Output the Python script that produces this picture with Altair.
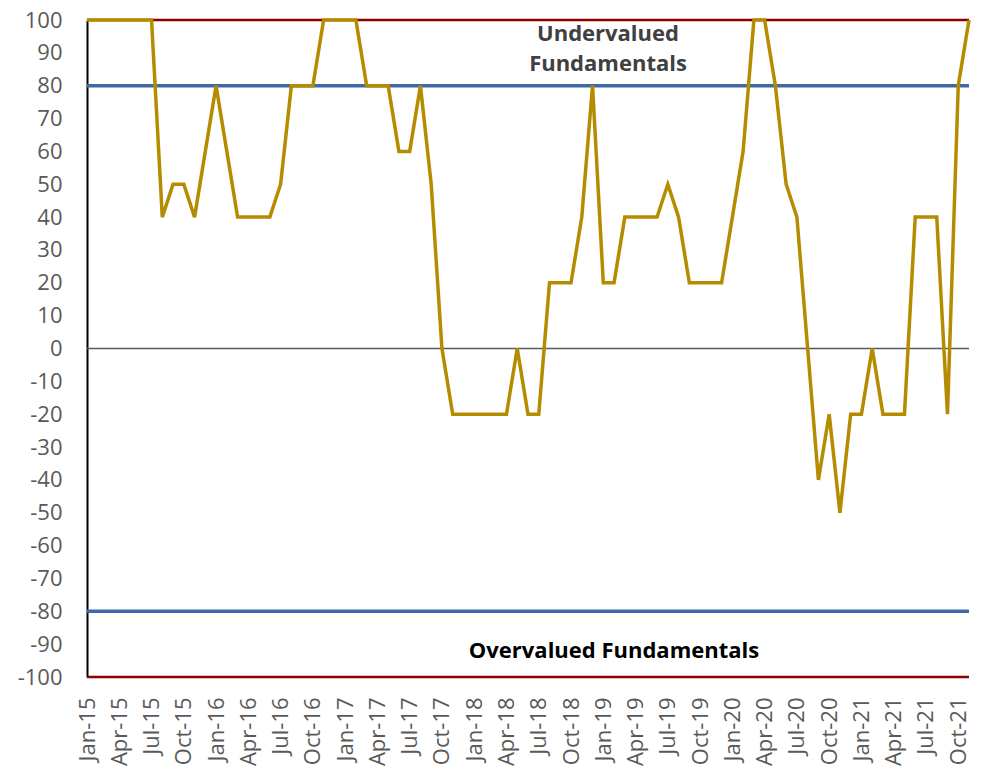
import altair as alt
import pandas as pd

# ---- data -------------------------------------------------------------
month_names = ["Jan", "Feb", "Mar", "Apr", "May", "Jun",
               "Jul", "Aug", "Sep", "Oct", "Nov", "Dec"]
years = ["15", "16", "17", "18", "19", "20", "21"]
months = [f"{m}-{y}" for y in years for m in month_names][:83]  # Jan-15 .. Nov-21

score = [
    100, 100, 100, 100, 100, 100, 100,   # Jan-15 .. Jul-15
    40, 50, 50, 40, 60,                  # Aug-15 .. Dec-15
    80, 60, 40, 40, 40, 40, 50, 80, 80, 80, 100, 100,   # 2016
    100, 100, 80, 80, 80, 60, 60, 80, 50, 0, -20, -20,  # 2017
    -20, -20, -20, -20, 0, -20, -20, 20, 20, 20, 40, 80,  # 2018
    20, 20, 40, 40, 40, 40, 50, 40, 20, 20, 20, 20,     # 2019
    40, 60, 100, 100, 80, 50, 40, 0, -40, -20, -50, -20,  # 2020
    -20, 0, -20, -20, -20, 40, 40, 40, -20, 80, 100,     # 2021 (Jan..Nov)
]

label_months = months[::3]
y_ticks = list(range(-100, 101, 10))

band_outer = [100, -100]
band_inner = [80, -80]
zero_level = [0]

df = pd.DataFrame({"month": months, "score": score})
outer_df = pd.DataFrame({"level": band_outer})
inner_df = pd.DataFrame({"level": band_inner})
zero_df = pd.DataFrame({"level": zero_level})

FONT = "Open Sans"
LABEL_COLOR = "#595959"

x_enc = alt.X(
    "month:O",
    sort=months,
    scale=alt.Scale(type="point", padding=0, domain=months),
    axis=alt.Axis(
        values=label_months,
        labelAngle=-90,
        labelAlign="right",
        labelBaseline="middle",
        ticks=False,
        domain=False,
        grid=False,
        title=None,
        labelPadding=20,
        labelFont=FONT,
        labelFontSize=22,
        labelColor=LABEL_COLOR,
        labelOverlap=False,
    ),
)

y_scale = alt.Scale(domain=[-100, 100], nice=False, zero=False)
y_axis = alt.Axis(
    values=y_ticks,
    labelExpr="'' + datum.value",
    labelOverlap=False,
    grid=False,
    ticks=False,
    tickSize=0,
    domain=True,
    domainColor="#000000",
    domainWidth=2,
    title=None,
    labelPadding=25,
    labelFont=FONT,
    labelFontSize=22,
    labelColor=LABEL_COLOR,
)

outer_rules = alt.Chart(outer_df).mark_rule(color="#8B0000", strokeWidth=2.5).encode(
    y=alt.Y("level:Q", scale=y_scale, axis=y_axis)
)
inner_rules = alt.Chart(inner_df).mark_rule(color="#4068A6", strokeWidth=3.5).encode(
    y=alt.Y("level:Q", scale=y_scale, axis=y_axis)
)
zero_rule = alt.Chart(zero_df).mark_rule(color="#595959", strokeWidth=1.5).encode(
    y=alt.Y("level:Q", scale=y_scale, axis=y_axis)
)

line = alt.Chart(df).mark_line(color="#B58B00", strokeWidth=3.5, strokeJoin="miter").encode(
    x=x_enc, y=alt.Y("score:Q", scale=y_scale, axis=y_axis)
)

under_text = alt.Chart(pd.DataFrame({"t": [0]})).mark_text(
    text=["Undervalued", "Fundamentals"],
    font=FONT, fontSize=22, fontWeight="bold", color="#404040",
    align="center", baseline="alphabetic", lineHeight=30,
).encode(x=alt.value(521), y=alt.value(21))

over_text = alt.Chart(pd.DataFrame({"t": [0]})).mark_text(
    text="Overvalued Fundamentals",
    font=FONT, fontSize=22, fontWeight="bold", color="#000000",
    align="center", baseline="alphabetic",
).encode(x=alt.value(527), y=alt.value(638))

chart = alt.layer(
    zero_rule, inner_rules, outer_rules, line, under_text, over_text
).properties(
    width=882,
    height=657,
    autosize=alt.AutoSizeParams(type="none"),
    padding={"left": 79, "top": 12, "right": 10, "bottom": 94},
).configure_view(stroke=None)

chart.save("out.html", embed_options={"renderer": "svg", "actions": False})
